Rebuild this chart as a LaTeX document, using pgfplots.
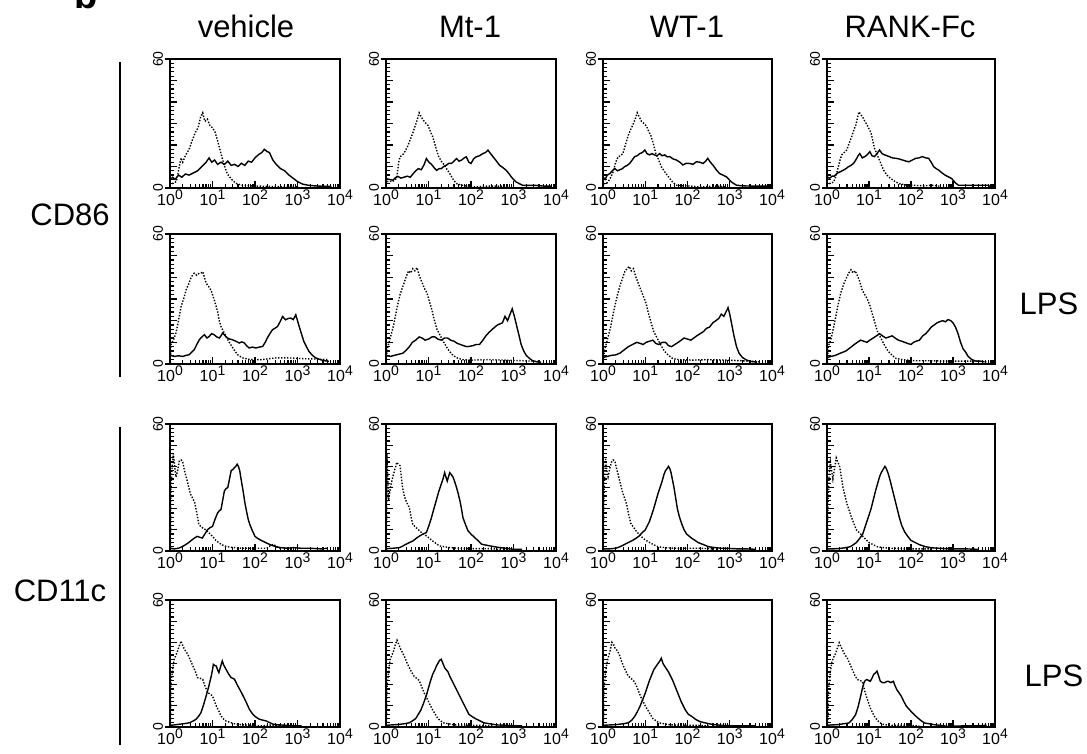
\documentclass[border=0pt]{standalone}
\usepackage{fontspec}
\setmainfont{Liberation Sans}
\usepackage{pgfplots}
\pgfplotsset{compat=1.18}

\newcommand{\xt}[1]{10\raisebox{0.65ex}{\fontsize{7}{8}\selectfont #1}}
\newcommand{\lbl}{\fontsize{15.5}{18}\selectfont}

\pgfplotsset{
  facs/.style={
    scale only axis, anchor=south west, width=85pt,
    xmin=0, xmax=4, ymin=0, ymax=60,
    axis line style={line width=0.75pt},
    tick pos=left, tick align=inside,
    major tick length=3.5pt, minor tick length=2pt,
    every tick/.style={black, line width=0.6pt},
    xtick={0,1,2,3,4},
    xticklabels={\xt0,\xt1,\xt2,\xt3,\xt4},
    minor xtick={0.301,0.477,0.602,0.699,0.778,0.845,0.903,0.954,
                 1.301,1.477,1.602,1.699,1.778,1.845,1.903,1.954,
                 2.301,2.477,2.602,2.699,2.778,2.845,2.903,2.954,
                 3.301,3.477,3.602,3.699,3.778,3.845,3.903,3.954},
    xticklabel style={font=\fontsize{8}{9}\selectfont, inner sep=0.8pt},
    ytick={10,20,30,40,50}, yticklabels={,,,,},
    minor ytick={2,4,6,8,12,14,16,18,22,24,26,28,32,34,36,38,42,44,46,48,52,54,56,58},
    extra y ticks={0,60}, extra y tick labels={0,60},
    extra y tick style={tick align=center, major tick length=5pt,
      yticklabel style={rotate=90, anchor=south, inner sep=0.8pt,
        font=\fontsize{7}{8}\selectfont}},
  },
  iso/.style={black, line width=0.7pt, dash pattern=on 0.7pt off 0.8pt},
  pos/.style={black, line width=0.7pt},
}

\begin{document}
\begin{tikzpicture}
\useasboundingbox (0,0) rectangle (543.5pt,-377pt);

% ---------- row 1: CD86 ----------
\begin{axis}[facs, at={(85pt,-94pt)}, height=64.5pt]
\addplot[iso] coordinates {(0.05,2)(0.15,3)(0.22,10)(0.26,14)(0.3,12)(0.36,15)(0.45,18)(0.52,22)(0.6,26)(0.66,28)(0.72,33)(0.77,35)(0.82,31)(0.88,32)(0.94,29)(1.0,28)(1.06,26)(1.12,22)(1.2,16)(1.27,11)(1.35,6.5)(1.45,4)(1.55,2.2)(1.7,1.2)(1.9,1)(2.2,0.8)(2.6,0.6)(3.0,0.6)};
\addplot[pos] coordinates {(0,3.5)(0.06,5)(0.12,4)(0.2,6)(0.28,5)(0.36,6.5)(0.45,6)(0.55,7)(0.65,8)(0.75,10)(0.85,12)(0.92,14)(0.98,12)(1.05,13)(1.12,11)(1.2,12)(1.28,11)(1.36,12.5)(1.44,10.5)(1.52,11)(1.6,10)(1.68,11.5)(1.76,10.5)(1.84,12.5)(1.92,12)(2.0,14)(2.08,15.5)(2.16,16.5)(2.22,18)(2.28,17)(2.34,16.5)(2.42,13)(2.5,11)(2.6,9)(2.7,8)(2.8,6)(2.9,4.5)(3.0,3)(3.12,1.8)(3.25,1.3)(3.4,1)(3.6,0.8)(3.75,0.8)(3.8,0.3)};
\end{axis}

\begin{axis}[facs, at={(193pt,-94pt)}, height=64.5pt]
\addplot[iso] coordinates {(0.02,3)(0.15,3)(0.25,4.5)(0.3,12)(0.33,14.5)(0.42,16)(0.5,19)(0.56,22)(0.62,25)(0.68,28.5)(0.74,32)(0.78,35)(0.83,33)(0.88,31.5)(0.94,30)(0.99,29)(1.05,26)(1.1,23.8)(1.17,19)(1.23,15)(1.3,12.5)(1.36,11)(1.44,8.5)(1.5,6.7)(1.58,4)(1.66,2)(1.8,1.2)(1.9,0.9)(2.12,0.5)(2.4,0.9)(2.7,0.9)(2.9,0.5)};
\addplot[pos] coordinates {(0,4.4)(0.08,4)(0.16,3.6)(0.22,4.8)(0.28,5.4)(0.35,4.6)(0.42,5)(0.5,5.5)(0.57,5)(0.64,6.7)(0.7,8)(0.76,9)(0.83,8.5)(0.9,11)(0.95,13.7)(1.01,12)(1.07,11)(1.13,9.5)(1.19,8.2)(1.25,9)(1.3,9)(1.36,10)(1.42,10.6)(1.48,11.5)(1.54,11.4)(1.6,12.5)(1.66,13.7)(1.72,12.5)(1.78,13)(1.84,14)(1.89,14.5)(1.95,12)(2.0,11.4)(2.06,13.5)(2.12,14.5)(2.2,15)(2.28,16)(2.34,16.5)(2.4,17.6)(2.46,16)(2.52,14.5)(2.6,12.5)(2.67,10.6)(2.75,9.5)(2.83,8.2)(2.9,6.5)(2.95,5.1)(3.0,4)(3.06,2.8)(3.14,2)(3.22,1.2)(3.4,1.2)(3.53,1.2)(3.7,0.9)(3.88,0.9)};
\end{axis}

\begin{axis}[facs, at={(301.5pt,-94pt)}, height=64.5pt, width=84.5pt]
\addplot[iso] coordinates {(0.02,2)(0.08,2)(0.16,4)(0.24,7.5)(0.3,12)(0.36,14.6)(0.42,15)(0.47,16)(0.53,20)(0.59,24)(0.65,27)(0.71,29.5)(0.76,32)(0.81,35)(0.86,33)(0.91,31)(0.97,30)(1.03,28.7)(1.09,26)(1.14,24)(1.2,20)(1.25,16)(1.32,13)(1.38,9.9)(1.48,7)(1.58,4.4)(1.66,2.5)(1.74,1.3)(1.9,1)(2.05,0.9)(2.3,0.5)(2.7,0.9)(2.9,0.5)};
\addplot[pos] coordinates {(0,5.2)(0.05,4)(0.1,6)(0.16,6.7)(0.22,8)(0.28,9.1)(0.34,8)(0.4,8.5)(0.46,9)(0.51,9.9)(0.57,10.5)(0.63,11.4)(0.69,13)(0.75,14.6)(0.81,15)(0.87,16)(0.93,16.5)(0.99,17.7)(1.04,16)(1.1,15.4)(1.16,16)(1.22,15.4)(1.28,15)(1.34,16)(1.4,15)(1.46,15.4)(1.52,14.5)(1.58,14.6)(1.66,13.5)(1.74,13)(1.82,12)(1.89,10.7)(1.97,11.5)(2.05,11.4)(2.13,11)(2.21,12.2)(2.29,12)(2.37,11.4)(2.43,12.5)(2.48,13.8)(2.54,12)(2.6,10.7)(2.68,8.5)(2.76,6.7)(2.84,6)(2.92,5.2)(2.98,4)(3.04,2.8)(3.1,2)(3.16,1.3)(3.3,1)(3.47,0.9)(3.7,0.9)(3.95,0.9)};
\end{axis}

\begin{axis}[facs, at={(413.5pt,-94pt)}, height=64.5pt, width=84pt]
\addplot[iso] coordinates {(0.05,2)(0.16,2.8)(0.22,6)(0.27,9.9)(0.31,13)(0.35,15.4)(0.41,16.5)(0.47,17.7)(0.53,21)(0.59,24)(0.64,27)(0.69,29.5)(0.73,33)(0.76,35.4)(0.81,34)(0.86,32.6)(0.9,31)(0.95,29.5)(1.0,27.5)(1.05,25.5)(1.09,22)(1.13,18.5)(1.19,15.5)(1.25,13)(1.31,10)(1.37,7.5)(1.45,5.5)(1.52,4.4)(1.62,3)(1.72,2)(1.85,1.5)(2.03,1.3)(2.3,1)(2.5,1.3)(2.7,0.8)};
\addplot[pos] coordinates {(0,5.2)(0.06,4.5)(0.12,5.5)(0.17,5.5)(0.23,6.7)(0.31,7.5)(0.39,8.3)(0.45,9)(0.51,9.9)(0.57,10.5)(0.63,11.4)(0.7,13.5)(0.74,15)(0.78,16)(0.84,14)(0.9,14.6)(0.96,15.5)(1.02,16.9)(1.07,15)(1.13,14.6)(1.19,16)(1.25,17.7)(1.31,16)(1.37,15.4)(1.43,15)(1.48,14.6)(1.56,14)(1.64,13.8)(1.72,13.5)(1.8,13)(1.88,12.5)(1.95,12.2)(2.03,13)(2.11,13.8)(2.19,14)(2.27,14.6)(2.35,14)(2.42,13.8)(2.48,12)(2.54,9.9)(2.6,9)(2.66,8.3)(2.74,7)(2.81,6)(2.89,5.2)(2.97,4.4)(3.05,2.5)(3.13,1.3)(3.3,1.3)(3.44,1.3)(3.6,1.3)(3.83,1.3)(3.9,0.6)};
\end{axis}

% ---------- row 2: CD86 + LPS ----------
\begin{axis}[facs, at={(85pt,-182pt)}, height=65pt]
\addplot[iso] coordinates {(0.01,0.5)(0.02,8.9)(0.08,11)(0.14,14.3)(0.2,20)(0.26,26.5)(0.32,30)(0.38,34.2)(0.44,37)(0.49,39.6)(0.53,41)(0.57,41.9)(0.63,41)(0.69,41.9)(0.73,42)(0.77,42.6)(0.81,40)(0.85,37.3)(0.9,36)(0.96,34.2)(1.0,32)(1.04,29.6)(1.08,27)(1.12,24.2)(1.16,20)(1.2,17.3)(1.26,15)(1.32,12.7)(1.38,10.5)(1.43,8.9)(1.51,6.5)(1.59,4.3)(1.65,3.5)(1.71,2.8)(1.85,2.2)(1.94,2)(2.15,2)(2.35,2.5)(2.49,2.8)(2.8,2.8)(3.1,2.5)(3.4,2.3)(3.74,2)};
\addplot[pos] coordinates {(0,4.3)(0.05,3.8)(0.1,3.5)(0.2,3.8)(0.3,3.5)(0.38,4)(0.45,4.3)(0.51,5.5)(0.57,6.6)(0.63,9)(0.69,11.2)(0.75,12.5)(0.81,13.5)(0.87,12)(0.92,12.7)(0.98,14)(1.04,13.5)(1.1,12.5)(1.16,12)(1.2,13)(1.24,14.3)(1.3,13)(1.35,12)(1.41,11.5)(1.47,11.2)(1.55,10.5)(1.63,9.7)(1.69,10.2)(1.75,9.7)(1.8,8.5)(1.86,7.4)(1.94,7.8)(2.02,7.4)(2.1,7.8)(2.18,8.1)(2.24,10)(2.29,12)(2.35,14)(2.41,15.8)(2.47,16.5)(2.53,17.3)(2.59,19.5)(2.65,21.9)(2.72,20.4)(2.78,21)(2.84,21.2)(2.9,20.5)(2.96,22.7)(3.0,20)(3.04,17.3)(3.1,13.5)(3.15,10.4)(3.21,8)(3.27,5.8)(3.35,4)(3.43,2.8)(3.51,2.2)(3.59,1.7)(3.74,1.2)};
\end{axis}

\begin{axis}[facs, at={(193pt,-182pt)}, height=65pt]
\addplot[iso] coordinates {(0.01,0.5)(0.03,7)(0.1,12)(0.18,18)(0.26,26)(0.33,32)(0.4,36)(0.47,40)(0.53,43)(0.58,42)(0.63,44)(0.68,43)(0.73,44.5)(0.78,41)(0.84,38)(0.9,35)(0.96,33)(1.02,29)(1.08,25)(1.14,20)(1.2,16)(1.28,13)(1.36,10)(1.45,7)(1.55,4.5)(1.65,3)(1.8,2)(2.0,1.8)(2.4,2)(2.8,1.8)(3.2,1.5)(3.6,1.2)};
\addplot[pos] coordinates {(0,4)(0.1,3.5)(0.2,4)(0.3,4.5)(0.4,5)(0.48,6.5)(0.55,8)(0.62,10)(0.7,11)(0.78,12.5)(0.85,12)(0.92,11)(1.0,11.5)(1.08,12.5)(1.15,12.5)(1.22,11.5)(1.3,11)(1.38,12)(1.45,12)(1.52,11)(1.6,10.5)(1.68,9.5)(1.75,9)(1.82,8.5)(1.9,8)(1.98,8.2)(2.05,8.5)(2.12,9)(2.2,9)(2.28,11)(2.35,13)(2.42,14.5)(2.5,16)(2.56,17)(2.62,18)(2.68,18.5)(2.74,19)(2.8,22)(2.86,20)(2.92,23)(2.97,25.5)(3.02,22)(3.07,18)(3.12,14)(3.18,9)(3.24,6)(3.3,4)(3.38,2.5)(3.45,1.5)(3.55,1)(3.65,0.8)};
\end{axis}

\begin{axis}[facs, at={(301.5pt,-182pt)}, height=65pt, width=84.5pt]
\addplot[iso] coordinates {(0.01,0.5)(0.03,6)(0.1,11)(0.18,17)(0.26,25)(0.33,31)(0.4,36)(0.47,40)(0.52,43)(0.57,44)(0.62,45)(0.67,43)(0.72,44)(0.78,40)(0.84,37)(0.9,34)(0.96,31)(1.02,28)(1.08,23)(1.14,19)(1.2,15)(1.28,12)(1.36,9)(1.45,6)(1.55,4)(1.65,2.5)(1.8,2)(2.1,1.8)(2.5,2)(2.9,1.8)(3.3,1.5)(3.7,1)};
\addplot[pos] coordinates {(0,3)(0.1,3.5)(0.2,4)(0.3,4.2)(0.4,5)(0.5,6.5)(0.6,8)(0.7,9)(0.8,10)(0.88,9.5)(0.95,9)(1.02,10)(1.1,10.5)(1.18,11)(1.25,9.5)(1.32,9)(1.4,10)(1.48,10)(1.55,8.5)(1.62,8)(1.7,9)(1.78,10)(1.85,11)(1.92,12)(2.0,11.5)(2.08,11)(2.15,12)(2.22,13)(2.3,14)(2.38,15)(2.45,16.5)(2.52,17)(2.6,19)(2.67,20)(2.74,21)(2.8,23)(2.86,22)(2.91,24)(2.96,26)(3.0,23)(3.05,18)(3.1,13)(3.16,8)(3.22,5)(3.3,3)(3.4,1.8)(3.5,1.2)(3.65,0.8)};
\end{axis}

\begin{axis}[facs, at={(413.5pt,-182pt)}, height=65pt, width=84pt]
\addplot[iso] coordinates {(0.01,0.5)(0.03,8)(0.1,12)(0.18,19)(0.26,27)(0.33,33)(0.4,37)(0.47,40)(0.52,42)(0.57,43.5)(0.62,42)(0.67,43)(0.72,41)(0.78,38)(0.84,34)(0.9,32)(0.96,30)(1.02,27)(1.08,23)(1.14,19)(1.2,15)(1.28,12)(1.36,9)(1.45,6)(1.55,4)(1.65,2.5)(1.8,2)(2.1,1.5)(2.5,1.5)(2.9,1.3)(3.3,1.3)(3.6,1.3)(3.8,1)};
\addplot[pos] coordinates {(0,3)(0.1,3.5)(0.2,4)(0.32,5)(0.45,6)(0.55,7.5)(0.65,9)(0.72,10)(0.8,11)(0.88,10.5)(0.95,10)(1.02,11)(1.1,12)(1.18,13)(1.25,14)(1.32,13)(1.4,12)(1.48,12.5)(1.55,13)(1.62,12)(1.7,11)(1.78,10.5)(1.85,10)(1.92,9.5)(2.0,9)(2.06,10)(2.12,10.5)(2.2,11)(2.28,13)(2.35,14)(2.42,15.5)(2.48,17)(2.55,18)(2.62,19)(2.68,19.5)(2.75,20)(2.82,19.5)(2.88,20.5)(2.95,20)(3.0,19)(3.06,17)(3.12,14)(3.18,10)(3.24,7)(3.3,5.5)(3.36,3.5)(3.45,2)(3.55,1.3)(3.65,1.3)(3.75,1)};
\end{axis}

% ---------- row 3: CD11c ----------
\begin{axis}[facs, at={(85pt,-275.5pt)}, height=63.5pt]
\addplot[iso] coordinates {(0.01,0.5)(0.02,28)(0.05,40)(0.08,46)(0.11,40)(0.14,35)(0.18,38)(0.22,42.7)(0.26,43)(0.3,42)(0.34,38)(0.38,35)(0.43,31)(0.48,27)(0.53,25)(0.58,23)(0.63,18)(0.68,12.4)(0.76,11)(0.84,10)(0.92,8.5)(1.0,6.9)(1.08,5)(1.16,3.7)(1.24,2.8)(1.32,2.1)(1.5,1.6)(1.72,1.3)(2.0,1.3)(2.28,1.3)(2.36,2.5)(2.44,3.2)(2.52,1.8)(2.6,1.3)};
\addplot[pos] coordinates {(0,1.3)(0.1,1)(0.2,1.3)(0.28,2)(0.36,2.9)(0.44,4)(0.52,5.3)(0.58,6.2)(0.64,6.9)(0.7,6.5)(0.76,6.1)(0.82,8)(0.88,10)(0.94,11)(1.0,11.6)(1.06,15)(1.12,18)(1.16,19)(1.2,19.6)(1.24,24)(1.28,28.4)(1.32,29.5)(1.36,30)(1.4,34)(1.44,38)(1.48,38.5)(1.52,39.5)(1.55,40)(1.58,41)(1.61,40)(1.64,38)(1.68,33)(1.72,28.4)(1.76,23)(1.8,18.8)(1.84,15)(1.88,12.4)(1.94,9.5)(2.0,6.9)(2.06,6)(2.12,5.3)(2.2,4.5)(2.28,3.7)(2.38,2.8)(2.48,2.1)(2.6,1.6)(2.76,1.3)(2.9,1.6)(3.08,1.3)(3.3,1.3)(3.56,1)(3.7,1.3)};
\end{axis}

\begin{axis}[facs, at={(193pt,-275.5pt)}, height=63.5pt]
\addplot[iso] coordinates {(0.01,0.5)(0.02,45.8)(0.04,35)(0.06,23.7)(0.09,28)(0.12,31.6)(0.16,35)(0.2,38)(0.23,40)(0.25,41.9)(0.29,41)(0.33,40.3)(0.36,35)(0.39,30)(0.43,26)(0.47,23.7)(0.51,22)(0.55,20.5)(0.59,16)(0.63,12.6)(0.71,11)(0.79,9.5)(0.87,8.2)(0.95,7.1)(1.02,6)(1.1,4.7)(1.18,3.5)(1.26,2.4)(1.38,2)(1.5,1.6)(1.7,1.3)(1.89,1.1)(2.2,1.1)(2.52,1.1)(2.7,0.6)};
\addplot[pos] coordinates {(0,1.1)(0.16,1.3)(0.32,1.6)(0.4,2.4)(0.47,3.2)(0.55,4)(0.63,4.7)(0.71,6)(0.79,7.1)(0.87,8)(0.95,8.7)(1.01,12)(1.07,15.8)(1.12,19.5)(1.18,23.7)(1.24,28)(1.3,31.6)(1.34,34)(1.38,37)(1.41,35)(1.44,33)(1.47,35)(1.5,37)(1.54,36)(1.58,34.8)(1.62,32.5)(1.66,30)(1.7,27)(1.74,23.7)(1.78,19.5)(1.81,15.8)(1.87,12.5)(1.93,9.5)(2.01,7.8)(2.09,6.3)(2.17,4.8)(2.25,3.2)(2.35,2.8)(2.45,2.4)(2.56,2)(2.68,1.6)(2.84,1.2)(3.0,0.8)(3.2,0.8)};
\end{axis}

\begin{axis}[facs, at={(301.5pt,-275.5pt)}, height=63.5pt, width=84.5pt]
\addplot[iso] coordinates {(0.01,0.5)(0.02,25)(0.06,44)(0.09,38)(0.12,35)(0.16,39)(0.2,42)(0.24,43)(0.28,42.5)(0.32,39)(0.36,36)(0.41,32)(0.46,28)(0.51,25)(0.56,22)(0.61,17)(0.66,13)(0.73,11)(0.8,9)(0.88,7.5)(0.95,6)(1.02,5)(1.1,4)(1.2,3)(1.3,2)(1.5,1.5)(1.7,1.3)(2.0,1.3)(2.3,1.3)(2.6,1)};
\addplot[pos] coordinates {(0,1)(0.15,1)(0.3,1.3)(0.4,2)(0.5,3)(0.6,4)(0.7,5)(0.78,6)(0.85,7)(0.92,8.5)(1.0,10)(1.05,12)(1.1,14)(1.15,17)(1.2,20)(1.25,23.5)(1.3,27)(1.35,30)(1.4,33)(1.44,36)(1.48,38)(1.52,39)(1.55,40)(1.58,39)(1.61,37)(1.65,33)(1.68,30)(1.72,25)(1.76,20)(1.81,16)(1.86,13)(1.92,10)(1.98,8)(2.04,7)(2.1,6)(2.18,5)(2.25,4)(2.38,3)(2.5,2)(2.65,1.6)(2.8,1.3)(3.0,1.2)(3.2,1)(3.4,1)(3.6,0.8)};
\end{axis}

\begin{axis}[facs, at={(413.5pt,-275.5pt)}, height=63.5pt, width=84pt]
\addplot[iso] coordinates {(0.01,0.5)(0.02,20)(0.05,36)(0.08,42)(0.11,38)(0.14,34)(0.18,39)(0.22,44)(0.26,42)(0.3,40)(0.34,35)(0.38,30)(0.43,26)(0.48,22)(0.53,19)(0.58,16)(0.64,13)(0.7,10)(0.78,8.5)(0.85,7)(0.92,5.5)(1.0,4)(1.1,3)(1.2,2)(1.35,1.6)(1.5,1.3)(1.75,1.2)(2.0,1)(2.3,1)(2.5,1)};
\addplot[pos] coordinates {(0,1)(0.15,1)(0.3,1.2)(0.42,1.5)(0.55,2)(0.63,3)(0.7,4)(0.78,6)(0.85,8)(0.9,11)(0.95,14)(1.0,17)(1.05,20)(1.1,24)(1.15,28)(1.2,31.5)(1.25,35)(1.29,37)(1.32,38)(1.35,39)(1.38,40)(1.41,39)(1.45,37)(1.48,35)(1.52,32)(1.57,28)(1.62,24)(1.67,20)(1.72,16)(1.78,12)(1.85,9)(1.92,7)(2.0,5)(2.1,4)(2.2,3)(2.35,2)(2.5,1.5)(2.75,1.2)(3.0,1)(3.3,1)(3.6,0.8)};
\end{axis}

% ---------- row 4: CD11c + LPS ----------
\begin{axis}[facs, at={(85pt,-363.5pt)}, height=63.5pt]
\addplot[iso] coordinates {(0.01,0.5)(0.02,19.4)(0.06,27)(0.1,32)(0.14,34)(0.18,36)(0.22,38.5)(0.26,40.6)(0.3,38.5)(0.34,36.7)(0.38,35.5)(0.42,34.3)(0.48,31.5)(0.54,28.8)(0.6,26)(0.65,23.3)(0.71,23)(0.77,22.5)(0.83,19)(0.89,16.2)(0.95,15.5)(1.0,14.6)(1.05,12)(1.09,9.9)(1.15,7.5)(1.2,5.2)(1.26,3.8)(1.32,2.8)(1.44,2)(1.56,1.3)(1.75,1)(1.95,0.8)(2.15,0.5)(2.35,0.9)(2.6,0.5)};
\addplot[pos] coordinates {(0,0.8)(0.11,1)(0.22,1.3)(0.34,1.6)(0.46,2)(0.54,2.8)(0.61,3.6)(0.67,5)(0.73,6.8)(0.79,10.5)(0.85,14.6)(0.91,19)(0.97,24)(1.0,27)(1.02,29.6)(1.06,29)(1.09,28.8)(1.12,27)(1.15,25.7)(1.19,28.5)(1.23,31.2)(1.27,29)(1.32,27.2)(1.38,25)(1.44,23.3)(1.48,23)(1.52,22.5)(1.58,20)(1.64,17.8)(1.7,15.5)(1.76,13.1)(1.82,10.5)(1.87,8.3)(1.93,6.5)(1.99,5.2)(2.05,4.3)(2.11,3.6)(2.19,3.2)(2.27,2.8)(2.35,2)(2.43,1.3)(2.55,1)(2.66,0.9)(2.8,0.7)(2.9,0.5)(3.1,0.5)};
\end{axis}

\begin{axis}[facs, at={(193pt,-363.5pt)}, height=63.5pt]
\addplot[iso] coordinates {(0.01,0.5)(0.02,18)(0.06,26)(0.1,32)(0.14,34)(0.18,36)(0.22,39)(0.26,41)(0.3,39)(0.34,37)(0.39,35)(0.44,33)(0.5,30)(0.55,28)(0.6,26)(0.66,24)(0.72,23)(0.78,22)(0.84,19)(0.9,16)(0.95,14)(1.0,12)(1.05,10)(1.1,8)(1.16,6)(1.22,4)(1.28,3)(1.35,2)(1.48,1.5)(1.6,1)(1.9,0.8)(2.2,0.8)(2.5,0.5)};
\addplot[pos] coordinates {(0,0.8)(0.15,1)(0.3,1.2)(0.45,1.6)(0.55,2)(0.63,3)(0.7,4)(0.76,6)(0.82,8)(0.88,11)(0.95,15)(1.0,18.5)(1.05,22)(1.1,25)(1.15,27)(1.19,29)(1.22,30)(1.26,31.5)(1.3,32)(1.34,30)(1.38,28)(1.42,27)(1.46,26)(1.5,24)(1.55,22)(1.6,20)(1.65,18)(1.7,16)(1.75,14)(1.8,12)(1.85,10)(1.9,8)(1.95,6)(2.02,5)(2.1,4)(2.2,3)(2.3,2)(2.45,1.5)(2.6,1)(2.8,0.8)(3.0,0.6)(3.2,0.5)};
\end{axis}

\begin{axis}[facs, at={(301.5pt,-363.5pt)}, height=63.5pt, width=84.5pt]
\addplot[iso] coordinates {(0.01,0.5)(0.02,17)(0.06,26)(0.1,31)(0.14,34)(0.18,37)(0.21,40)(0.25,39)(0.29,37)(0.34,36)(0.39,34)(0.44,31)(0.5,28)(0.55,26)(0.6,24)(0.66,23)(0.72,22)(0.78,20)(0.84,17)(0.9,14)(0.95,12)(1.0,10)(1.06,8)(1.12,6)(1.18,4)(1.25,3)(1.32,2)(1.45,1.5)(1.6,1)(1.9,0.8)(2.2,0.8)(2.5,0.5)};
\addplot[pos] coordinates {(0,0.8)(0.18,1)(0.35,1.2)(0.5,1.6)(0.6,2)(0.68,3.2)(0.75,5)(0.82,7.5)(0.88,10)(0.94,13)(1.0,16)(1.05,19)(1.1,22)(1.15,24.5)(1.2,27)(1.25,28.5)(1.3,30)(1.34,31)(1.38,32.5)(1.42,30)(1.45,29)(1.5,27.5)(1.55,26)(1.6,24)(1.65,22)(1.7,19.5)(1.75,17)(1.8,14.5)(1.85,12)(1.9,10)(1.95,8)(2.02,6)(2.1,5)(2.2,3.5)(2.3,2.5)(2.45,1.8)(2.6,1.2)(2.8,0.8)(3.0,0.6)(3.3,0.5)(3.6,0.5)};
\end{axis}

\begin{axis}[facs, at={(413.5pt,-363.5pt)}, height=63.5pt, width=84pt]
\addplot[iso] coordinates {(0.02,0.5)(0.04,18.5)(0.08,26)(0.12,31)(0.16,33)(0.21,35)(0.25,37.5)(0.29,39.8)(0.33,38)(0.38,35.9)(0.43,34)(0.48,32.7)(0.54,30)(0.6,27.2)(0.66,24.5)(0.72,22.4)(0.78,22)(0.84,21.6)(0.88,18.5)(0.91,16.1)(0.97,12.5)(1.03,9)(1.09,6.5)(1.15,4.3)(1.22,2.8)(1.3,1.4)(1.42,1)(1.54,0.8)(1.8,0.8)(2.0,0.8)(2.2,0.4)};
\addplot[pos] coordinates {(0,0.8)(0.12,1)(0.25,1.1)(0.38,1.5)(0.52,1.9)(0.6,3.5)(0.68,5.8)(0.74,9.5)(0.8,14.5)(0.84,18)(0.88,20.9)(0.91,22)(0.95,22.4)(0.99,22)(1.03,21.6)(1.07,23)(1.11,24.8)(1.15,25.5)(1.19,26.4)(1.23,24)(1.27,21.6)(1.32,21)(1.37,20.9)(1.42,21.5)(1.46,21.6)(1.52,21)(1.58,21.6)(1.62,19.5)(1.66,17.7)(1.72,16)(1.77,14.5)(1.83,12)(1.89,9.8)(1.95,8.5)(2.0,7.4)(2.08,5.8)(2.16,4.3)(2.24,3)(2.32,1.9)(2.44,1.5)(2.55,1.1)(2.7,0.8)(2.87,0.3)(3.2,0.5)(3.5,0.5)(3.8,0.8)};
\end{axis}

% ---------- labels ----------
\node[anchor=base, font=\fontsize{19}{20}\selectfont\bfseries] at (43pt,-4.5pt) {b};
\node[anchor=base, font=\lbl] at (123pt,-19pt) {vehicle};
\node[anchor=base, font=\lbl] at (235pt,-19pt) {Mt-1};
\node[anchor=base, font=\lbl] at (343.5pt,-19pt) {WT-1};
\node[anchor=base, font=\lbl] at (455pt,-19pt) {RANK-Fc};
\node[font=\lbl] at (35pt,-107.5pt) {CD86};
\node[font=\lbl] at (30pt,-295.5pt) {CD11c};
\node[font=\lbl] at (524.5pt,-152pt) {LPS};
\node[font=\lbl] at (527pt,-338pt) {LPS};
\draw[line width=1pt] (60pt,-31pt) -- (60pt,-188.5pt);
\draw[line width=1pt] (60pt,-213.5pt) -- (60pt,-372.5pt);
\end{tikzpicture}
\end{document}
